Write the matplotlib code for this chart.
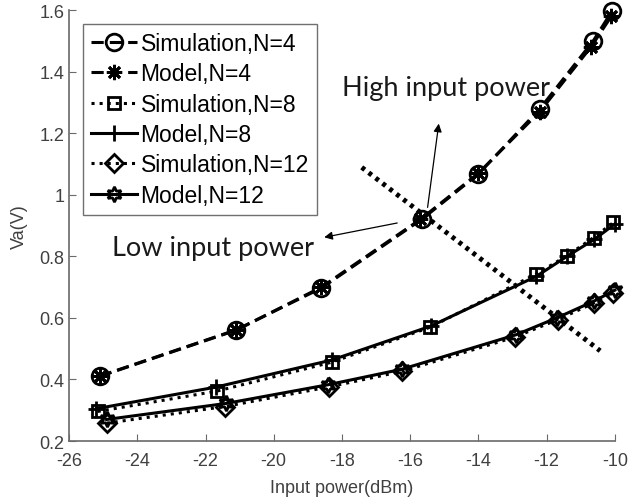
"""Va vs input power: simulation and model curves for N=4, 8, 12."""

import matplotlib
matplotlib.use("Agg")
import matplotlib.pyplot as plt

# N=4
p_sim4 = [-25.1, -21.1, -18.6, -15.65, -14.0, -12.2, -10.63, -10.08]
v_sim4 = [0.411, 0.561, 0.697, 0.921, 1.067, 1.279, 1.50, 1.597]
p_mod4 = [-25.1, -21.1, -18.6, -15.7, -14.0, -12.2, -10.7, -10.1]
v_mod4 = [0.41, 0.56, 0.70, 0.92, 1.07, 1.27, 1.48, 1.58]

# N=8
p_sim8 = [-25.16, -21.67, -18.3, -15.43, -12.31, -11.4, -10.62, -10.04]
v_sim8 = [0.296, 0.362, 0.456, 0.569, 0.742, 0.802, 0.861, 0.91]
p_mod8 = [-25.2, -21.7, -18.3, -15.4, -12.3, -11.4, -10.6, -10.0]
v_mod8 = [0.305, 0.375, 0.463, 0.573, 0.735, 0.80, 0.855, 0.905]

# N=12
p_sim12 = [-24.9, -21.43, -18.37, -16.25, -12.92, -11.68, -10.62, -10.04]
v_sim12 = [0.258, 0.312, 0.376, 0.426, 0.538, 0.594, 0.648, 0.681]
p_mod12 = [-24.9, -21.4, -18.4, -16.25, -12.9, -11.7, -10.6, -10.0]
v_mod12 = [0.27, 0.322, 0.383, 0.433, 0.545, 0.60, 0.655, 0.69]

# dotted separator line (low / high input power)
sep_p = [-17.42, -10.43]
sep_v = [1.089, 0.493]

x_ticks = [-26, -24, -22, -20, -18, -16, -14, -12, -10]
y_ticks = [0.2, 0.4, 0.6, 0.8, 1.0, 1.2, 1.4, 1.6]
y_ticklabels = ["0.2", "0.4", "0.6", "0.8", "1", "1.2", "1.4", "1.6"]

TXT = "#404040"
SPINE = "#6a6a6a"

plt.rcParams["font.family"] = ["Liberation Sans", "DejaVu Sans"]
plt.rcParams["axes.unicode_minus"] = False

fig = plt.figure(figsize=(6.28, 5.02), dpi=100)
ax = fig.add_axes([0.110, 0.1195, 0.869, 0.8585])

kw = dict(color="k", lw=2.2, mfc="none", mew=2.0, clip_on=False)
ax.plot(p_sim4, v_sim4, ls=(0, (4, 2)), marker="o", ms=12,
        label="Simulation,N=4", **kw)
ax.plot(p_mod4, v_mod4, ls=(0, (4, 2)), marker=(8, 2, 0), ms=11,
        label="Model,N=4", **kw)
ax.plot(p_sim8, v_sim8, ls=":", marker="s", ms=9,
        label="Simulation,N=8", **kw)
ax.plot(p_mod8, v_mod8, ls="-", marker="+", ms=12,
        label="Model,N=8", **kw)
ax.plot(p_sim12, v_sim12, ls=":", marker="D", ms=9,
        label="Simulation,N=12", **kw)
ax.plot(p_mod12, v_mod12, ls="-", marker=(6, 1, 0), ms=11,
        label="Model,N=12", **kw)

ax.plot(sep_p, sep_v, color="k", lw=3.5, ls=(0, (0.8, 1.0)))

ax.set_xlim(-26, -10)
ax.set_ylim(0.2, 1.6)
ax.set_xticks(x_ticks)
ax.set_yticks(y_ticks)
ax.set_yticklabels(y_ticklabels)
ax.tick_params(direction="in", length=5, color=SPINE, labelcolor=TXT,
               labelsize=13)
ax.tick_params(axis="x", pad=8)
for s in ("top", "right"):
    ax.spines[s].set_visible(False)
for s in ("left", "bottom"):
    ax.spines[s].set_color(SPINE)
    ax.spines[s].set_linewidth(1.2)

ax.set_xlabel("Input power(dBm)", fontsize=13, color=TXT, labelpad=7)
ax.set_ylabel("Va(V)", fontsize=13, color=TXT, labelpad=8)

# annotations
ax.annotate("", xy=(-15.15, 1.24), xytext=(-15.5, 0.95),
            arrowprops=dict(arrowstyle="-|>", color="k", lw=0.9,
                            mutation_scale=12))
ax.annotate("", xy=(-18.6, 0.86), xytext=(-16.3, 0.91),
            arrowprops=dict(arrowstyle="-|>", color="k", lw=0.9,
                            mutation_scale=12))
ax.text(-18.0, 1.35, "High input power", fontsize=19.5, color="#1a1a1a",
        family=["Lato", "DejaVu Sans"], va="center")
ax.text(-24.75, 0.83, "Low input power", fontsize=19.5, color="#1a1a1a",
        family=["Lato", "DejaVu Sans"], va="center")

leg = ax.legend(loc="upper left", bbox_to_anchor=(0.026, 0.968),
                fontsize=16.5, frameon=True, fancybox=False, framealpha=1,
                edgecolor="#707070", handlelength=2.0, handletextpad=0.15,
                labelspacing=0.32, borderpad=0.35, borderaxespad=0)
leg.get_frame().set_linewidth(1.0)

fig.savefig("out.png", dpi=100)
plt.close(fig)
